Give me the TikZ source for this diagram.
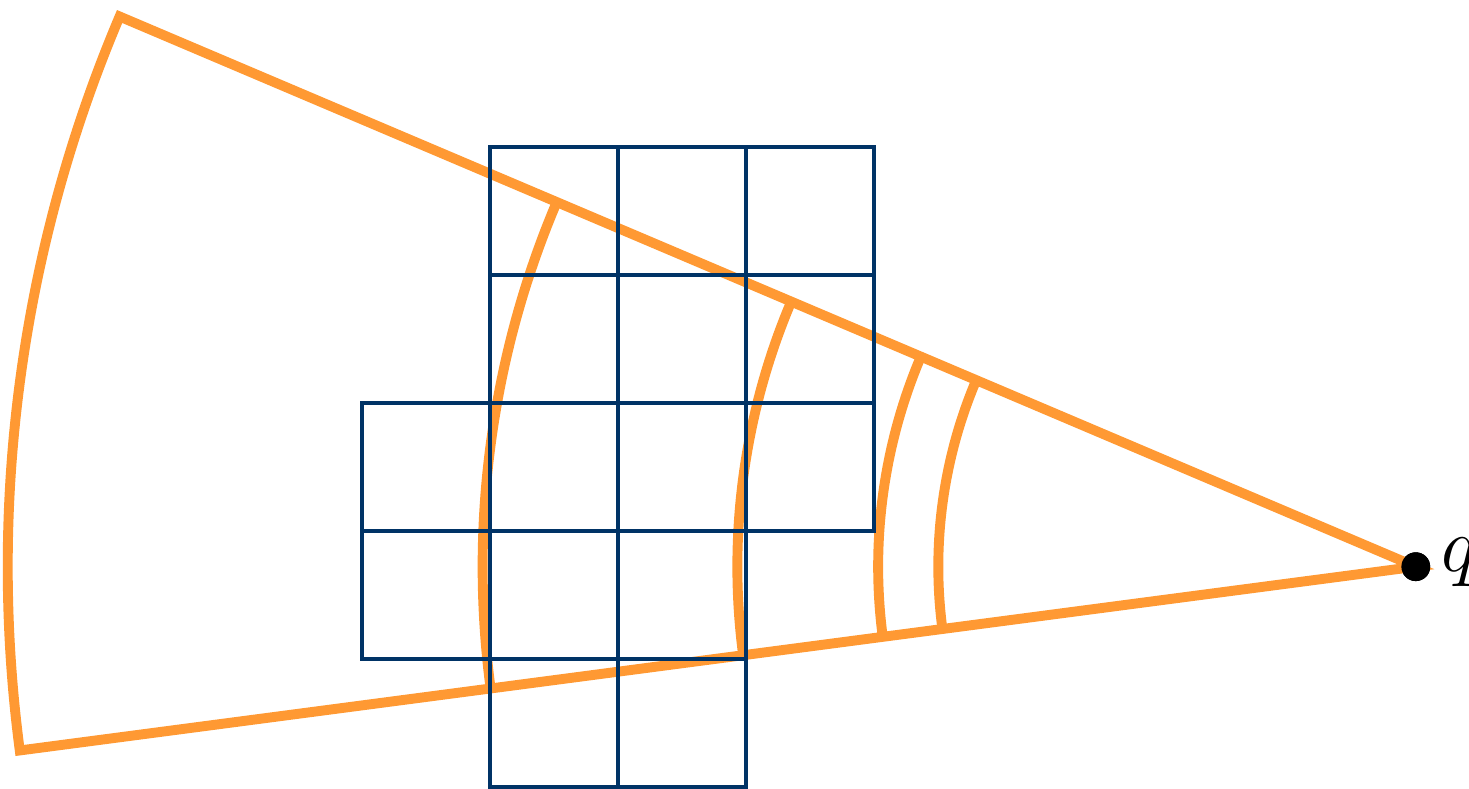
\documentclass[tikz,border=0pt]{standalone}
\usepackage{xcolor}
\usepackage{tikz}
\usetikzlibrary{calc,positioning}
\definecolor{sectorOrange}{RGB}{255,153,51}
\definecolor{gridBlue}{RGB}{0,51,102}
\tikzset{
  sector/.style={draw=sectorOrange,line width=2.2pt},
  cell/.style={draw=gridBlue,line width=0.75pt},
  apex/.style={circle,fill=black,inner sep=0pt,minimum size=6.4pt}
}
\begin{document}
\begin{tikzpicture}
\useasboundingbox (-2.828,-0.008) rectangle (8.648,6.148);
\node[apex] (q) at (8.232,1.721) {};
\node[right=1.2pt of q,inner xsep=1pt,yshift=1pt,font=\fontsize{19}{22}\selectfont] (qlab) {$q$};
% sector
\draw[sector] (q.center) -- ++(157:11) arc[start angle=157,end angle=187.5,radius=11] -- cycle;
% inner arcs
\foreach \r in {7.29,5.30,4.20,3.73}
  \draw[sector] ([shift={(157:\r)}]q.center) arc[start angle=157,end angle=187.5,radius=\r];
% grid cells
\foreach \i/\j in {1/0,2/0,0/1,1/1,2/1,0/2,1/2,2/2,3/2,1/3,2/3,3/3,1/4,2/4,3/4}
  \draw[cell] (\i,\j) rectangle ++(1,1);
% dot on top
\node[apex] at (q.center) {};
\end{tikzpicture}
\end{document}
